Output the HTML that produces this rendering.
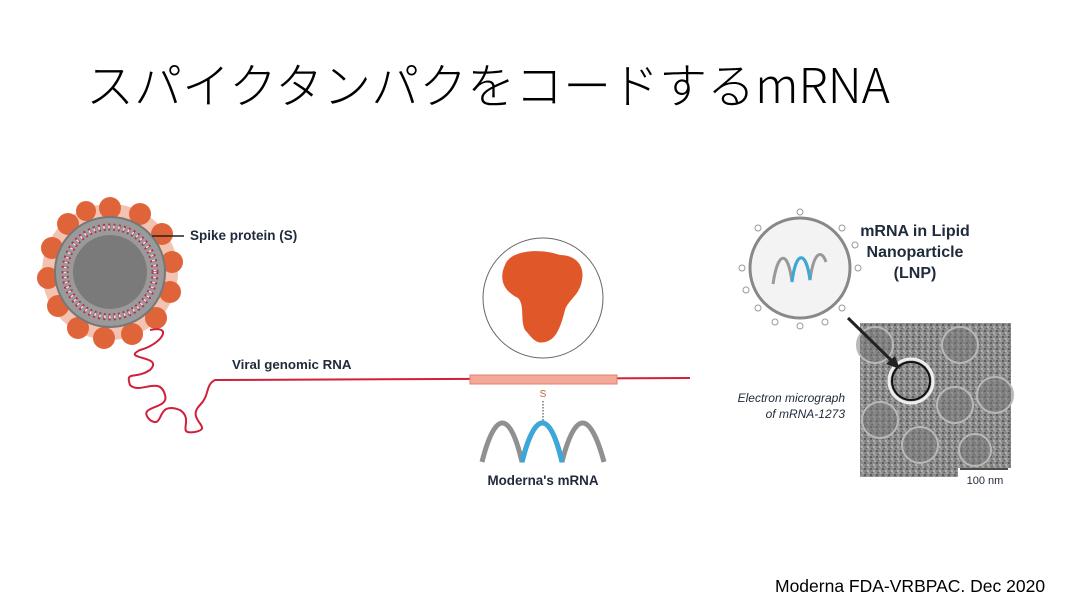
<!DOCTYPE html>
<html><head><meta charset="utf-8"><style>
html,body{margin:0;padding:0;background:#fff;}
svg{display:block}
</style></head><body>
<svg width="1080" height="608" viewBox="0 0 1080 608" xmlns="http://www.w3.org/2000/svg">
<defs>
<pattern id="noise" width="6" height="6" patternUnits="userSpaceOnUse">
<rect width="6" height="6" fill="#8a8a8a"/>
<rect x="0" y="0" width="2" height="2" fill="#5e5e5e"/>
<rect x="3" y="2" width="2" height="2" fill="#b0b0b0"/>
<rect x="1" y="4" width="2" height="1" fill="#6a6a6a"/>
<rect x="4" y="4" width="2" height="2" fill="#a0a0a0"/>
</pattern>
</defs>
<text x="86" y="103" font-family="'Noto Sans CJK JP',sans-serif" font-size="48" font-weight="300" fill="#000">スパイクタンパクをコードするmRNA</text>

<!-- virus -->
<g>
<circle cx="110" cy="272" r="68" fill="#f4c2b0"/>
<g fill="#e0643a">
<circle cx="110" cy="208" r="11"/><circle cx="140" cy="214" r="11"/><circle cx="162" cy="234" r="11"/><circle cx="172" cy="262" r="11"/><circle cx="170" cy="292" r="11"/><circle cx="156" cy="318" r="11"/><circle cx="132" cy="334" r="11"/><circle cx="104" cy="338" r="11"/><circle cx="78" cy="328" r="11"/><circle cx="58" cy="306" r="11"/><circle cx="48" cy="278" r="11"/><circle cx="52" cy="248" r="11"/><circle cx="68" cy="224" r="11"/><circle cx="86" cy="211" r="10"/>
</g>
<circle cx="110" cy="272" r="55" fill="#9a9a9a" stroke="#777" stroke-width="2"/>
<circle cx="110" cy="272" r="45" fill="none" stroke="#b03050" stroke-width="7" stroke-dasharray="2 3"/>
<circle cx="110" cy="272" r="45" fill="none" stroke="#f0e0e0" stroke-width="3" stroke-dasharray="1.5 3.5"/>
<circle cx="110" cy="272" r="37" fill="#7a7a7a"/>
<line x1="152" y1="236" x2="184" y2="236" stroke="#222" stroke-width="1.5"/>
</g>
<text x="190" y="240" font-family="'Liberation Sans',sans-serif" font-size="13.5" font-weight="bold" fill="#1f2a3a">Spike protein (S)</text>
<path d="M150,330 C175,325 160,345 140,350 C120,360 165,355 150,370 C135,380 125,370 130,385 C140,395 160,375 165,395 C170,410 135,405 150,420 C165,430 155,400 180,410 C195,420 175,435 195,432 C215,428 185,420 200,405 C210,395 205,385 215,380 L690,378" fill="none" stroke="#d0203a" stroke-width="2"/>
<text x="232" y="369" font-family="'Liberation Sans',sans-serif" font-size="13.3" font-weight="bold" fill="#1f2a3a">Viral genomic RNA</text>

<!-- protein -->
<circle cx="543" cy="298" r="60" fill="#fff" stroke="#666" stroke-width="1"/>
<path d="M505,265 C510,250 540,248 560,255 C575,255 585,265 582,280 C580,295 568,300 565,310 C560,330 555,340 545,342 C535,345 530,335 525,330 C520,320 525,305 518,298 C505,292 498,280 505,265Z" fill="#e0582a"/>
<rect x="470" y="375" width="147" height="9" fill="#f4a898" stroke="#e08070"/>
<text x="543" y="397" text-anchor="middle" font-family="'Liberation Sans',sans-serif" font-size="10" fill="#c0603a">S</text>
<line x1="543" y1="401" x2="543" y2="421" stroke="#333" stroke-dasharray="1.5 1.5"/>
<path d="M482,462 C495,410 510,410 522,462 C535,410 550,410 562,462 C575,410 590,410 604,462" fill="none" stroke="#909090" stroke-width="5"/>
<path d="M522,462 C535,410 550,410 562,462" fill="none" stroke="#3aa8d8" stroke-width="5"/>
<text x="543" y="485" text-anchor="middle" font-family="'Liberation Sans',sans-serif" font-size="13.4" font-weight="bold" fill="#1f2a3a">Moderna's mRNA</text>

<!-- LNP -->
<g stroke="#999" fill="#fff" stroke-width="1">
<circle cx="800" cy="212" r="3"/><circle cx="842" cy="228" r="3"/><circle cx="858" cy="268" r="3"/><circle cx="842" cy="308" r="3"/><circle cx="800" cy="326" r="3"/><circle cx="758" cy="308" r="3"/><circle cx="742" cy="268" r="3"/><circle cx="758" cy="228" r="3"/><circle cx="775" cy="322" r="3"/><circle cx="825" cy="322" r="3"/><circle cx="855" cy="245" r="3"/><circle cx="746" cy="290" r="3"/>
</g>
<circle cx="800" cy="268" r="50" fill="#f3f3f3" stroke="#888" stroke-width="3"/>
<path d="M773,284 C778,250 788,250 792,282 C796,250 806,250 810,280 C814,250 822,250 826,262" fill="none" stroke="#999" stroke-width="3"/>
<path d="M792,282 C796,250 806,250 810,280" fill="none" stroke="#3aa8d8" stroke-width="3"/>
<g font-family="'Liberation Sans',sans-serif" font-size="16" font-weight="bold" fill="#1f2a3a" text-anchor="middle">
<text x="915" y="236">mRNA in Lipid</text><text x="915" y="257">Nanoparticle</text><text x="915" y="278">(LNP)</text>
</g>
<rect x="860" y="323" width="151" height="154" fill="url(#noise)"/>
<g fill="#767676" stroke="#b8b8b8" stroke-width="2" fill-opacity="0.5">
<circle cx="875" cy="345" r="18"/><circle cx="960" cy="345" r="18"/><circle cx="995" cy="395" r="18"/><circle cx="955" cy="405" r="18"/><circle cx="880" cy="420" r="18"/><circle cx="920" cy="445" r="18"/><circle cx="975" cy="450" r="16"/>
</g>
<circle cx="911" cy="381" r="22" fill="none" stroke="#eee" stroke-width="3"/>
<circle cx="911" cy="381" r="19" fill="none" stroke="#111" stroke-width="2"/>
<line x1="848" y1="318" x2="893" y2="362" stroke="#222" stroke-width="3"/>
<polygon points="900,369 886,364 895,356" fill="#222"/>
<rect x="958" y="468" width="53" height="12" fill="#fff"/>
<line x1="960" y1="469" x2="1008" y2="469" stroke="#111" stroke-width="1.5"/>
<text x="985" y="484" text-anchor="middle" font-family="'Liberation Sans',sans-serif" font-size="11" fill="#1f2a3a">100 nm</text>
<g font-family="'Liberation Sans',sans-serif" font-size="12" font-style="italic" fill="#1f2a3a" text-anchor="end">
<text x="845" y="402">Electron micrograph</text><text x="845" y="418">of mRNA-1273</text>
</g>
<text x="775" y="592" font-family="'Liberation Sans','Noto Sans CJK JP',sans-serif" font-size="17.5" fill="#000">Moderna FDA-VRBPAC. Dec 2020</text>
</svg>
</body></html>
